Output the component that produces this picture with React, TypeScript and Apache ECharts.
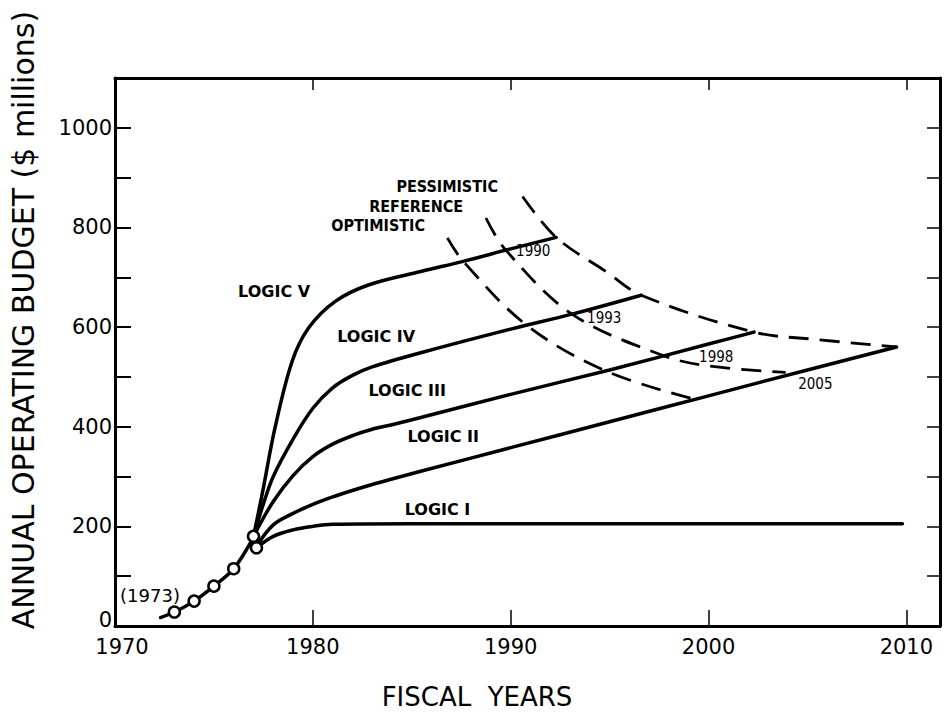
import React, { useEffect, useRef } from "react";
import * as echarts from "echarts";

// Historical budget (fiscal year, $ millions)
const historyLine: number[][] = [
  [1972.3, 17], [1973, 28], [1974, 50], [1975, 80], [1976, 115], [1977, 178],
];
const historyPoints: number[][] = [
  [1973, 28], [1974, 50], [1975, 80], [1976, 115], [1977, 180], [1977.15, 157],
];

// Projected budget for each logic
const logicI: number[][] = [
  [1977.15, 157], [1978, 180], [1979, 193], [1980, 200], [1981, 204], [1985, 205], [1995, 205], [2009.8, 205],
];
const logicII: number[][] = [
  [1977.15, 160], [1978, 203], [1979, 226], [1980, 244], [1981, 259], [1982, 272], [1983, 284],
  [1984, 295], [1985.5, 311], [1990, 358], [1995, 410], [2000, 462], [2005, 514], [2009.5, 560],
];
const logicIII: number[][] = [
  [1977, 180], [1978, 250], [1979, 302], [1980, 340], [1981, 365], [1982, 382], [1983, 395],
  [1984, 404], [1985.5, 419], [1990, 465], [1995, 514], [2000, 566], [2002.3, 590],
];
const logicIV: number[][] = [
  [1977, 180], [1977.5, 245], [1978, 300], [1979, 375], [1980, 437], [1981, 478], [1982, 503],
  [1983, 520], [1985.5, 549], [1990, 596], [1993.1, 626], [1996.6, 664],
];
const logicV: number[][] = [
  [1977, 180], [1977.44, 265], [1978.1, 400], [1978.96, 532], [1979.8, 599], [1981.15, 652],
  [1982.84, 685], [1985.5, 712], [1987.6, 732], [1990, 757], [1992.3, 780],
];

// Scenario envelopes (dashed)
const optimistic: number[][] = [
  [1986.8, 779], [1987.6, 732], [1990.8, 604], [1994.8, 512], [1999.3, 455],
];
const reference: number[][] = [
  [1988.75, 819], [1989.7, 757], [1993.1, 626], [1997.7, 543], [2000, 522], [2003.9, 509],
];
const pessimistic: number[][] = [
  [1990.6, 862], [1992.3, 780], [1994.8, 712], [1996.6, 664], [2002.3, 590], [2005.5, 575], [2009.5, 560],
];

// Axis ranges and tick spacing
const xMin = 1970;
const xMax = 2011.7;
const xStep = 10;
const yMin = 0;
const yMax = 1100;
const yStep = 100;
const yLabelStep = 200;

// Text annotations placed in data coordinates
const logicLabels: { name: string; value: number[] }[] = [
  { name: "LOGIC V", value: [1978.04, 671] },
  { name: "LOGIC IV", value: [1983.2, 581] },
  { name: "LOGIC III", value: [1984.77, 473] },
  { name: "LOGIC II", value: [1986.59, 381] },
  { name: "LOGIC I", value: [1986.3, 234] },
];
const scenarioLabels: { name: string; value: number[] }[] = [
  { name: "PESSIMISTIC", value: [1986.79, 882] },
  { name: "REFERENCE", value: [1985.22, 842] },
  { name: "OPTIMISTIC", value: [1983.3, 804] },
];
const yearLabels: { name: string; value: number[] }[] = [
  { name: "1990", value: [1991.14, 752] },
  { name: "1993", value: [1994.73, 619] },
  { name: "1998", value: [2000.39, 539] },
  { name: "2005", value: [2005.4, 485] },
];
const startLabels: { name: string; value: number[] }[] = [
  { name: "(1973)", value: [1971.77, 62] },
];

const INK = "#000";

function solid(name: string, data: number[][]) {
  return {
    name,
    type: "line",
    data,
    smooth: 0.35,
    showSymbol: false,
    symbol: "none",
    lineStyle: { color: INK, width: 3.5, cap: "round", opacity: 1 },
    z: 3,
  };
}

function dashed(name: string, data: number[][]) {
  return {
    name,
    type: "line",
    data,
    smooth: 0.35,
    showSymbol: false,
    symbol: "none",
    lineStyle: { color: INK, width: 2.8, type: [20, 11], opacity: 1 },
    z: 2,
  };
}

function textLayer(name: string, data: { name: string; value: number[] }[], font: string, size: number, weight: string) {
  return {
    name,
    type: "scatter",
    data,
    symbolSize: 0,
    silent: true,
    z: 5,
    itemStyle: { opacity: 1 },
    label: {
      show: true,
      position: "inside",
      formatter: (p: any) => p.name,
      color: INK,
      opacity: 1,
      fontFamily: font,
      fontSize: size,
      fontWeight: weight,
    },
  };
}

export default function App() {
  const ref = useRef<HTMLDivElement>(null);

  useEffect(() => {
    document.body.style.margin = "0";
    if (!ref.current) return;
    const chart = echarts.init(ref.current, null, { renderer: "svg" });

    const axisLine = { show: true, onZero: false, lineStyle: { color: INK, width: 3 } };
    const tickFont = { color: INK, fontFamily: "DejaVu Sans", fontSize: 21 };

    chart.setOption({
      animation: false,
      backgroundColor: "#fff",
      grid: { left: 115, right: 8, top: 78, bottom: 88, outerBoundsMode: "none" },
      xAxis: [
        {
          type: "value",
          position: "bottom",
          min: xMin,
          max: xMax,
          interval: xStep,
          axisLine,
          axisTick: { inside: true, length: 16, lineStyle: { color: INK, width: 1.5 } },
          axisLabel: {
            ...tickFont,
            margin: 10,
            showMaxLabel: false,
            formatter: (v: number) => {
              if (v % xStep !== 0) return "";
              return v === xMin ? `{first|${v}}` : String(v);
            },
            rich: { first: { ...tickFont, padding: [0, 0, 0, 14] } },
          },
          splitLine: { show: false },
        },
        {
          type: "value",
          position: "top",
          min: xMin,
          max: xMax,
          interval: xStep,
          axisLine,
          axisTick: { inside: true, length: 12, lineStyle: { color: INK, width: 1.5 } },
          axisLabel: { show: false },
          splitLine: { show: false },
        },
      ],
      yAxis: [
        {
          type: "value",
          position: "left",
          min: yMin,
          max: yMax,
          interval: yStep,
          axisLine,
          axisTick: { inside: true, length: 16, lineStyle: { color: INK, width: 2 } },
          axisLabel: {
            ...tickFont,
            margin: 3,
            formatter: (v: number) => {
              if (v % yLabelStep !== 0 || v >= yMax) return "";
              return v === yMin ? `{zero|${v}}` : String(v);
            },
            rich: { zero: { ...tickFont, padding: [0, 0, 12, 0] } },
          },
          splitLine: { show: false },
        },
        {
          type: "value",
          position: "right",
          min: yMin,
          max: yMax,
          interval: yStep,
          axisLine,
          axisTick: { inside: true, length: 13, lineStyle: { color: INK, width: 1.5 } },
          axisLabel: { show: false },
          splitLine: { show: false },
        },
      ],
      series: [
        solid("History", historyLine),
        solid("Logic I", logicI),
        solid("Logic II", logicII),
        solid("Logic III", logicIII),
        solid("Logic IV", logicIV),
        solid("Logic V", logicV),
        dashed("Optimistic", optimistic),
        dashed("Reference", reference),
        dashed("Pessimistic", pessimistic),
        {
          name: "Actual",
          type: "scatter",
          data: historyPoints,
          symbol: "circle",
          symbolSize: 11,
          itemStyle: { color: "#fff", borderColor: INK, borderWidth: 2.5, opacity: 1 },
          z: 4,
        },
        textLayer("logic-labels", logicLabels, "DejaVu Sans", 16, "bold"),
        textLayer("scenario-labels", scenarioLabels, "DejaVu Sans Condensed", 16, "bold"),
        textLayer("year-labels", yearLabels, "DejaVu Sans Condensed", 15, "normal"),
        textLayer("start-labels", startLabels, "DejaVu Sans", 18, "normal"),
      ],
      graphic: [
        {
          type: "text",
          x: 23,
          y: 320,
          rotation: Math.PI / 2,
          style: {
            text: "ANNUAL OPERATING BUDGET ($ millions)",
            font: '30px "DejaVu Sans"',
            fill: INK,
            align: "center",
            verticalAlign: "middle",
          },
        },
        {
          type: "text",
          x: 477,
          y: 697,
          style: {
            text: "FISCAL  YEARS",
            font: '26px "DejaVu Sans"',
            fill: INK,
            align: "center",
            verticalAlign: "middle",
          },
        },
      ],
    });

    return () => chart.dispose();
  }, []);

  return <div ref={ref} style={{ width: 948, height: 714 }} />;
}
